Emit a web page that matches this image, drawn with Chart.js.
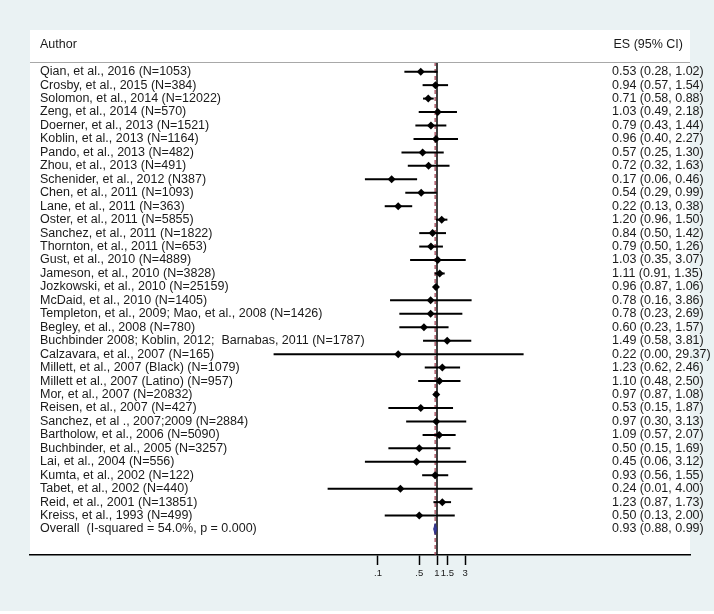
<!DOCTYPE html>
<html>
<head>
<meta charset="utf-8">
<script src="https://cdn.jsdelivr.net/npm/chart.js@4"></script>
<style>
  html, body { margin: 0; padding: 0; background: #fff; }
  #wrap { width: 714px; height: 614px; position: relative; }
</style>
</head>
<body>
<div id="wrap"><canvas id="c" width="714" height="614"></canvas></div>
<script>
// ---- data ----
const authors = [
  "Qian, et al., 2016 (N=1053)",
  "Crosby, et al., 2015 (N=384)",
  "Solomon, et al., 2014 (N=12022)",
  "Zeng, et al., 2014 (N=570)",
  "Doerner, et al., 2013 (N=1521)",
  "Koblin, et al., 2013 (N=1164)",
  "Pando, et al., 2013 (N=482)",
  "Zhou, et al., 2013 (N=491)",
  "Schenider, et al., 2012 (N387)",
  "Chen, et al., 2011 (N=1093)",
  "Lane, et al., 2011 (N=363)",
  "Oster, et al., 2011 (N=5855)",
  "Sanchez, et al., 2011 (N=1822)",
  "Thornton, et al., 2011 (N=653)",
  "Gust, et al., 2010 (N=4889)",
  "Jameson, et al., 2010 (N=3828)",
  "Jozkowski, et al., 2010 (N=25159)",
  "McDaid, et al., 2010 (N=1405)",
  "Templeton, et al., 2009; Mao, et al., 2008 (N=1426)",
  "Begley, et al., 2008 (N=780)",
  "Buchbinder 2008; Koblin, 2012;  Barnabas, 2011 (N=1787)",
  "Calzavara, et al., 2007 (N=165)",
  "Millett, et al., 2007 (Black) (N=1079)",
  "Millett et al., 2007 (Latino) (N=957)",
  "Mor, et al., 2007 (N=20832)",
  "Reisen, et al., 2007 (N=427)",
  "Sanchez, et al ., 2007;2009 (N=2884)",
  "Bartholow, et al., 2006 (N=5090)",
  "Buchbinder, et al., 2005 (N=3257)",
  "Lai, et al., 2004 (N=556)",
  "Kumta, et al., 2002 (N=122)",
  "Tabet, et al., 2002 (N=440)",
  "Reid, et al., 2001 (N=13851)",
  "Kreiss, et al., 1993 (N=499)"
];
const es = [0.53,0.94,0.71,1.03,0.79,0.96,0.57,0.72,0.17,0.54,0.22,1.20,0.84,0.79,1.03,1.11,0.96,0.78,0.78,0.60,1.49,0.22,1.23,1.10,0.97,0.53,0.97,1.09,0.50,0.45,0.93,0.24,1.23,0.50];
const lo = [0.28,0.57,0.58,0.49,0.43,0.40,0.25,0.32,0.06,0.29,0.13,0.96,0.50,0.50,0.35,0.91,0.87,0.16,0.23,0.23,0.58,0.0017,0.62,0.48,0.87,0.15,0.30,0.57,0.15,0.06,0.56,0.014,0.87,0.13];
const hi = [1.02,1.54,0.88,2.18,1.44,2.27,1.30,1.63,0.46,0.99,0.38,1.50,1.42,1.26,3.07,1.35,1.06,3.86,2.69,1.57,3.81,29.37,2.46,2.50,1.08,1.87,3.13,2.07,1.69,3.12,1.55,4.00,1.73,2.00];

const overallLabel = "Overall  (I-squared = 54.0%, p = 0.000)";
const overallES = 0.93, overallLo = 0.88, overallHi = 0.99;
const nullValue = 1;

const tickValues = [0.1, 0.5, 1, 1.5, 3];
const tickLabels = [".1", ".5", "1", "1.5", "3"];

const headerLeft = "Author";
const headerRight = "ES (95% CI)";

// ---- layout constants ----
const FONT = "'Liberation Sans', Arial, sans-serif";
const xMin = Math.pow(10, (30 - 437) / 59);
const xMax = Math.pow(10, (690 - 437) / 59);
const yMin = -0.72, yMax = 35.93;
const nRows = authors.length;

const fmt = v => v.toFixed(2);

// ---- datasets ----
const datasets = [];
// study points (top)
datasets.push({
  type: 'scatter',
  data: es.map((v, i) => ({ x: v, y: i })),
  pointStyle: 'rectRot',
  pointRadius: 4,
  backgroundColor: '#000',
  borderColor: '#000',
  borderWidth: 0,
  order: 0
});
// overall diamond
datasets.push({
  type: 'line',
  data: [
    { x: overallLo, y: nRows },
    { x: overallES, y: nRows - 0.41 },
    { x: overallHi, y: nRows },
    { x: overallES, y: nRows + 0.41 },
    { x: overallLo, y: nRows }
  ],
  borderColor: '#2d2f86',
  backgroundColor: '#3a3d9a',
  borderWidth: 1,
  fill: 'shape',
  tension: 0,
  pointRadius: 0,
  order: 1
});
// CI lines
es.forEach((v, i) => {
  datasets.push({
    type: 'line',
    data: [{ x: lo[i], y: i }, { x: hi[i], y: i }],
    borderColor: '#000',
    borderWidth: 2,
    pointRadius: 0,
    fill: false,
    order: 2
  });
});
// overall dashed line
datasets.push({
  type: 'line',
  data: [{ x: overallES, y: yMin }, { x: overallES, y: yMax }],
  borderColor: '#9a3346',
  borderWidth: 1.2,
  borderDash: [4, 3],
  pointRadius: 0,
  fill: false,
  order: 3
});
// null line
datasets.push({
  type: 'line',
  data: [{ x: nullValue, y: yMin }, { x: nullValue, y: yMax }],
  borderColor: '#000',
  borderWidth: 1.5,
  pointRadius: 0,
  fill: false,
  order: 4
});

const bgPlugin = {
  id: 'bg',
  beforeDraw(chart) {
    const ctx = chart.ctx;
    ctx.save();
    ctx.fillStyle = '#ffffff';
    ctx.fillRect(0, 0, 714, 614);
    ctx.fillStyle = '#eaf2f3';
    ctx.fillRect(0, 0, 714, 611);
    ctx.fillStyle = '#ffffff';
    ctx.fillRect(30, 30, 660, 525);
    ctx.restore();
  }
};

const textPlugin = {
  id: 'texts',
  afterDraw(chart) {
    const ctx = chart.ctx;
    const ys = chart.scales.y;
    ctx.save();
    ctx.fillStyle = '#1a1a1a';
    ctx.font = "12.5px " + FONT;
    ctx.textBaseline = 'middle';
    // header
    ctx.textAlign = 'left';
    ctx.fillText(headerLeft, 40, 45);
    ctx.textAlign = 'right';
    ctx.fillText(headerRight, 683, 45);
    // separator
    ctx.strokeStyle = '#a8a8a8';
    ctx.lineWidth = 1;
    ctx.beginPath();
    ctx.moveTo(30, 62.5);
    ctx.lineTo(690, 62.5);
    ctx.stroke();
    // rows
    ctx.textAlign = 'left';
    authors.forEach((a, i) => {
      const y = ys.getPixelForValue(i);
      ctx.fillText(a, 40, y);
      ctx.fillText(fmt(es[i]) + " (" + fmt(lo[i]) + ", " + fmt(hi[i]) + ")", 612, y);
    });
    const yo = ys.getPixelForValue(nRows);
    ctx.fillText(overallLabel, 40, yo);
    ctx.fillText(fmt(overallES) + " (" + fmt(overallLo) + ", " + fmt(overallHi) + ")", 612, yo);
    ctx.restore();
  }
};

new Chart(document.getElementById('c'), {
  data: { datasets },
  options: {
    responsive: false,
    animation: false,
    events: [],
    layout: { padding: { left: 30, right: 24, top: 62, bottom: 0 } },
    plugins: { legend: { display: false }, tooltip: { enabled: false } },
    scales: {
      x: {
        type: 'logarithmic',
        position: 'bottom',
        min: xMin,
        max: xMax,
        afterBuildTicks: s => { s.ticks = tickValues.map(v => ({ value: v })); },
        afterFit: s => { s.height = 59; },
        ticks: {
          autoSkip: false,
          maxRotation: 0,
          padding: 3,
          color: '#1a1a1a',
          font: { family: FONT, size: 9.5 },
          callback: (v, i) => tickLabels[i]
        },
        grid: {
          display: true,
          drawOnChartArea: false,
          drawTicks: true,
          tickLength: 10,
          tickColor: '#000',
          tickWidth: 1.5
        },
        border: { display: true, color: '#000', width: 1.5 }
      },
      y: {
        type: 'linear',
        display: false,
        reverse: true,
        min: yMin,
        max: yMax
      }
    }
  },
  plugins: [bgPlugin, textPlugin]
});
</script>
</body>
</html>
